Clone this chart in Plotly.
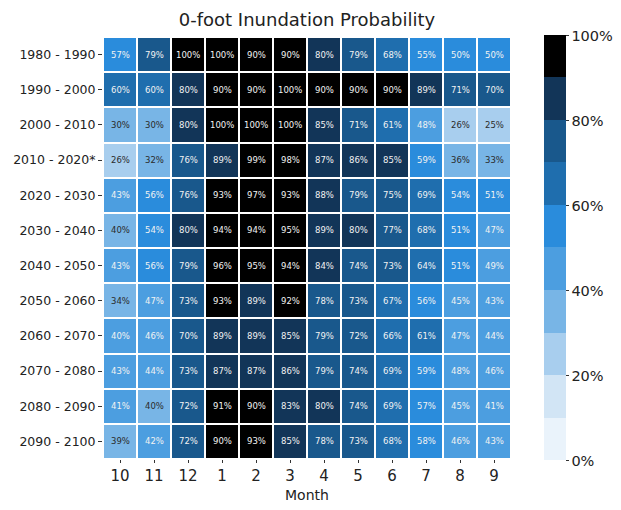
import plotly.graph_objects as go

months = ["10", "11", "12", "1", "2", "3", "4", "5", "6", "7", "8", "9"]
decades = ["1980 - 1990", "1990 - 2000", "2000 - 2010", "2010 - 2020*", "2020 - 2030",
           "2030 - 2040", "2040 - 2050", "2050 - 2060", "2060 - 2070", "2070 - 2080",
           "2080 - 2090", "2090 - 2100"]

r1980 = [57, 79, 100, 100, 90, 90, 80, 79, 68, 55, 50, 50]
r1990 = [60, 60, 80, 90, 90, 100, 90, 90, 90, 89, 71, 70]
r2000 = [30, 30, 80, 100, 100, 100, 85, 71, 61, 48, 26, 25]
r2010 = [26, 32, 76, 89, 99, 98, 87, 86, 85, 59, 36, 33]
r2020 = [43, 56, 76, 93, 97, 93, 88, 79, 75, 69, 54, 51]
r2030 = [39.6, 54, 80, 94, 94, 95, 89, 80, 77, 68, 51, 47]
r2040 = [43, 56, 79, 96, 95, 94, 84, 74, 73, 64, 51, 49]
r2050 = [34, 47, 73, 93, 89, 92, 78, 73, 67, 56, 45, 43]
r2060 = [40.2, 46, 70, 89, 89, 85, 79, 72, 66, 61, 47, 44]
r2070 = [43, 44, 73, 87, 87, 86, 79, 74, 69, 59, 48, 46]
r2080 = [41, 39.7, 72, 91, 90, 83, 80, 74, 69, 57, 45, 41]
r2090 = [39, 42, 72, 90, 93, 85, 78, 73, 68, 58, 46, 43]

values = [r1980, r1990, r2000, r2010, r2020, r2030, r2040, r2050, r2060, r2070, r2080, r2090]

band_colors = ["#eaf3fb", "#d2e5f5", "#a8ceee", "#78b5e6", "#4c9ee0",
               "#2a8cdc", "#1f6eae", "#19588c", "#123558", "#000000"]
colorscale = []
for i, c in enumerate(band_colors):
    colorscale.append([i / 10, c])
    colorscale.append([(i + 1) / 10, c])

cb_vals = [0, 20, 40, 60, 80, 100]
cb_text = ["0%", "20%", "40%", "60%", "80%", "100%"]

# page body has an 8px margin: figure is sized to fit the 621x510 window
W, H = 605, 494
ML, MT, PLOT_H = 95, 29, 422
PAPER_W = W - ML
PLOT_W = 408

fig = go.Figure()
fig.add_trace(go.Heatmap(
    z=values, x=months, y=decades,
    zmin=0, zmax=100, colorscale=colorscale,
    xgap=2, ygap=2, hoverinfo="skip",
    colorbar=dict(
        thickness=22, lenmode="pixels", len=425,
        x=(536 - ML) / PAPER_W, xanchor="left",
        y=0.5, yanchor="middle", xpad=0, ypad=0,
        tickvals=cb_vals, ticktext=cb_text, ticks="outside", ticklen=3,
        tickcolor="#333", tickfont=dict(family="DejaVu Sans", size=14.5, color="#222"),
        outlinewidth=0,
    ),
))

annotations = []
for yi, row in enumerate(values):
    for xi, v in enumerate(row):
        annotations.append(dict(
            x=xi, y=yi, xref="x", yref="y",
            text=f"{round(v)}%", showarrow=False,
            font=dict(family="DejaVu Sans", size=8.5,
                      color="#2b2b2b" if v < 40 else "#f2f2f2"),
        ))
annotations.append(dict(
    text="Month", x=0.5, xref="x domain", y=-35.5 / PLOT_H, yref="paper",
    xanchor="center", yanchor="middle", showarrow=False, borderpad=0,
    font=dict(family="DejaVu Sans", size=14, color="#222"),
))

fig.update_layout(
    width=W, height=H,
    margin=dict(l=ML, r=0, t=MT, b=H - MT - PLOT_H, pad=0),
    paper_bgcolor="white", plot_bgcolor="white",
    font=dict(family="DejaVu Sans", color="#222"),
    title=dict(text="0-foot Inundation Probability", x=(ML + PLOT_W / 2) / W,
               xanchor="center", y=1 - 12 / H, yanchor="middle",
               font=dict(size=18, color="#222")),
    annotations=annotations,
    xaxis=dict(type="category", domain=[0, PLOT_W / PAPER_W],
               tickfont=dict(size=15), ticks="outside", ticklen=3, tickcolor="#333",
               showgrid=False, zeroline=False, showline=False, automargin=False),
    yaxis=dict(type="category", autorange="reversed", tickfont=dict(size=12.5), ticks="outside",
               ticklen=4, tickcolor="#333", showgrid=False, zeroline=False, showline=False,
               automargin=False),
)

fig.write_html("out.html")
